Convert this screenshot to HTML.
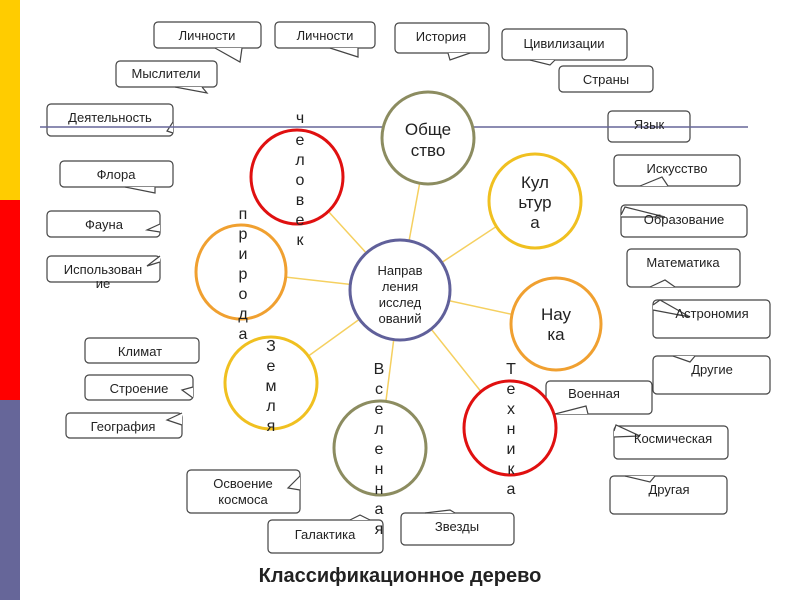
<!DOCTYPE html>
<html><head><meta charset="utf-8"><style>
body{margin:0;background:#fff;overflow:hidden}
svg{display:block}
svg text{font-family:"Liberation Sans","DejaVu Sans",sans-serif;fill:#222}
</style></head><body>
<svg width="800" height="600" viewBox="0 0 800 600" xmlns="http://www.w3.org/2000/svg">
<rect x="0" y="0" width="20" height="200" fill="#ffcc00"/>
<rect x="0" y="200" width="20" height="200" fill="#ff0000"/>
<rect x="0" y="400" width="20" height="200" fill="#666699"/>

<g fill="#fff" stroke="#444" stroke-width="1.2">
<rect x="154" y="22" width="107" height="26" rx="4"/><path d="M215 48 L240 62 L242 48"/>
<rect x="275" y="22" width="100" height="26" rx="4"/><path d="M330 48 L358 57 L358 48"/>
<rect x="395" y="23" width="94" height="30" rx="4"/><path d="M448 53 L450 60 L470 53"/>
<rect x="502" y="29" width="125" height="31" rx="4"/><path d="M530 60 L550 65 L555 60"/>
<rect x="559" y="66" width="94" height="26" rx="4"/>
<rect x="116" y="61" width="101" height="26" rx="4"/><path d="M175 87 L207 93 L202 87"/>
<rect x="47" y="104" width="126" height="32" rx="4"/><path d="M173 122 L167 131 L173 133"/>
<rect x="608" y="111" width="82" height="31" rx="4"/>
<rect x="60" y="161" width="113" height="26" rx="4"/><path d="M125 187 L155 193 L155 187"/>
<rect x="614" y="155" width="126" height="31" rx="4"/><path d="M640 186 L662 177 L668 186"/>
<rect x="47" y="211" width="113" height="26" rx="4"/><path d="M160 224 L147 230 L160 232"/>
<rect x="621" y="205" width="126" height="32" rx="4"/><path d="M621 215 L625 207 L665 217 L621 217"/>
<rect x="47" y="256" width="113" height="26" rx="4"/><path d="M160 262 L147 266 L160 256"/>
<rect x="627" y="249" width="113" height="38" rx="4"/><path d="M650 287 L665 280 L675 287"/>
<rect x="653" y="300" width="117" height="38" rx="4"/><path d="M653 305 L660 300 L690 317 L653 310"/>
<rect x="653" y="356" width="117" height="38" rx="4"/><path d="M673 356 L690 362 L695 356"/>
<rect x="85" y="338" width="114" height="25" rx="4"/>
<rect x="85" y="375" width="108" height="25" rx="4"/><path d="M193 387 L182 390 L193 398"/>
<rect x="66" y="413" width="116" height="25" rx="4"/><path d="M182 413 L167 420 L182 425"/>
<rect x="546" y="381" width="106" height="33" rx="4"/><path d="M555 414 L586 406 L588 414"/>
<rect x="614" y="426" width="114" height="33" rx="4"/><path d="M614 431 L616 425 L640 436 L614 437"/>
<rect x="610" y="476" width="117" height="38" rx="4"/><path d="M625 476 L650 482 L655 476"/>
<rect x="187" y="470" width="113" height="43" rx="4"/><path d="M300 476 L288 488 L300 490"/>
<rect x="268" y="520" width="115" height="33" rx="4"/><path d="M350 520 L360 515 L370 520"/>
<rect x="401" y="513" width="113" height="32" rx="4"/><path d="M425 513 L450 510 L455 513"/>
</g>
<line x1="40" y1="127" x2="748" y2="127" stroke="#666699" stroke-width="1.5"/>

<g stroke="#f5d060" stroke-width="1.5">
<line x1="400" y1="290" x2="428" y2="138"/>
<line x1="400" y1="290" x2="297" y2="177"/>
<line x1="400" y1="290" x2="535" y2="201"/>
<line x1="400" y1="290" x2="241" y2="272"/>
<line x1="400" y1="290" x2="556" y2="324"/>
<line x1="400" y1="290" x2="271" y2="383"/>
<line x1="400" y1="290" x2="380" y2="448"/>
<line x1="400" y1="290" x2="510" y2="428"/>
</g>
<g fill="#fff" stroke-width="3">
<ellipse cx="428" cy="138" rx="46" ry="46" stroke="#8c8c60"/>
<ellipse cx="297" cy="177" rx="46" ry="47" stroke="#e01010"/>
<ellipse cx="535" cy="201" rx="46" ry="47" stroke="#f0c020"/>
<ellipse cx="241" cy="272" rx="45" ry="47" stroke="#f0a030"/>
<ellipse cx="400" cy="290" rx="50" ry="50" stroke="#60609a"/>
<ellipse cx="556" cy="324" rx="45" ry="46" stroke="#f0a030"/>
<ellipse cx="271" cy="383" rx="46" ry="46" stroke="#f0c020"/>
<ellipse cx="380" cy="448" rx="46" ry="47" stroke="#8c8c60"/>
<ellipse cx="510" cy="428" rx="46" ry="47" stroke="#e01010"/>
</g>

<g font-size="13" text-anchor="middle">
<text x="207" y="40">Личности</text>
<text x="325" y="40">Личности</text>
<text x="441" y="41">История</text>
<text x="564" y="48">Цивилизации</text>
<text x="606" y="84">Страны</text>
<text x="166" y="78">Мыслители</text>
<text x="110" y="122">Деятельность</text>
<text x="649" y="129">Язык</text>
<text x="116" y="179">Флора</text>
<text x="677" y="173">Искусство</text>
<text x="104" y="229">Фауна</text>
<text x="684" y="224">Образование</text>
<text x="103" y="274">Использован</text>
<text x="103" y="288">ие</text>
<text x="683" y="267">Математика</text>
<text x="712" y="318">Астрономия</text>
<text x="712" y="374">Другие</text>
<text x="140" y="356">Климат</text>
<text x="139" y="393">Строение</text>
<text x="123" y="431">География</text>
<text x="594" y="398">Военная</text>
<text x="673" y="443">Космическая</text>
<text x="669" y="494">Другая</text>
<text x="243" y="488">Освоение</text>
<text x="243" y="504">космоса</text>
<text x="325" y="539">Галактика</text>
<text x="457" y="531">Звезды</text>
</g>
<g font-size="17" text-anchor="middle">
<text x="428" y="135">Обще</text>
<text x="428" y="156">ство</text>
<text x="535" y="188">Кул</text>
<text x="535" y="208">ьтур</text>
<text x="535" y="228">а</text>
<text x="556" y="320">Нау</text>
<text x="556" y="340">ка</text>
</g>
<g font-size="13" text-anchor="middle">
<text x="400" y="275">Направ</text>
<text x="400" y="291">ления</text>
<text x="400" y="307">исслед</text>
<text x="400" y="323">ований</text>
</g>
<g font-size="16" text-anchor="middle">
<text x="300" y="123">ч</text><text x="300" y="145">е</text><text x="300" y="165">л</text><text x="300" y="185">о</text><text x="300" y="205">в</text><text x="300" y="225">е</text><text x="300" y="245">к</text>
<text x="243" y="219">п</text><text x="243" y="239">р</text><text x="243" y="259">и</text><text x="243" y="279">р</text><text x="243" y="299">о</text><text x="243" y="319">д</text><text x="243" y="339">а</text>
<text x="271" y="351">З</text><text x="271" y="371">е</text><text x="271" y="391">м</text><text x="271" y="411">л</text><text x="271" y="431">я</text>
<text x="379" y="374">В</text><text x="379" y="394">с</text><text x="379" y="414">е</text><text x="379" y="434">л</text><text x="379" y="454">е</text><text x="379" y="474">н</text><text x="379" y="494">н</text><text x="379" y="514">а</text><text x="379" y="534">я</text>
<text x="511" y="374">Т</text><text x="511" y="394">е</text><text x="511" y="414">х</text><text x="511" y="434">н</text><text x="511" y="454">и</text><text x="511" y="474">к</text><text x="511" y="494">а</text>
</g>
<text x="400" y="582" font-size="20" font-weight="bold" text-anchor="middle" fill="#111">Классификационное дерево</text>
</svg>
</body></html>
